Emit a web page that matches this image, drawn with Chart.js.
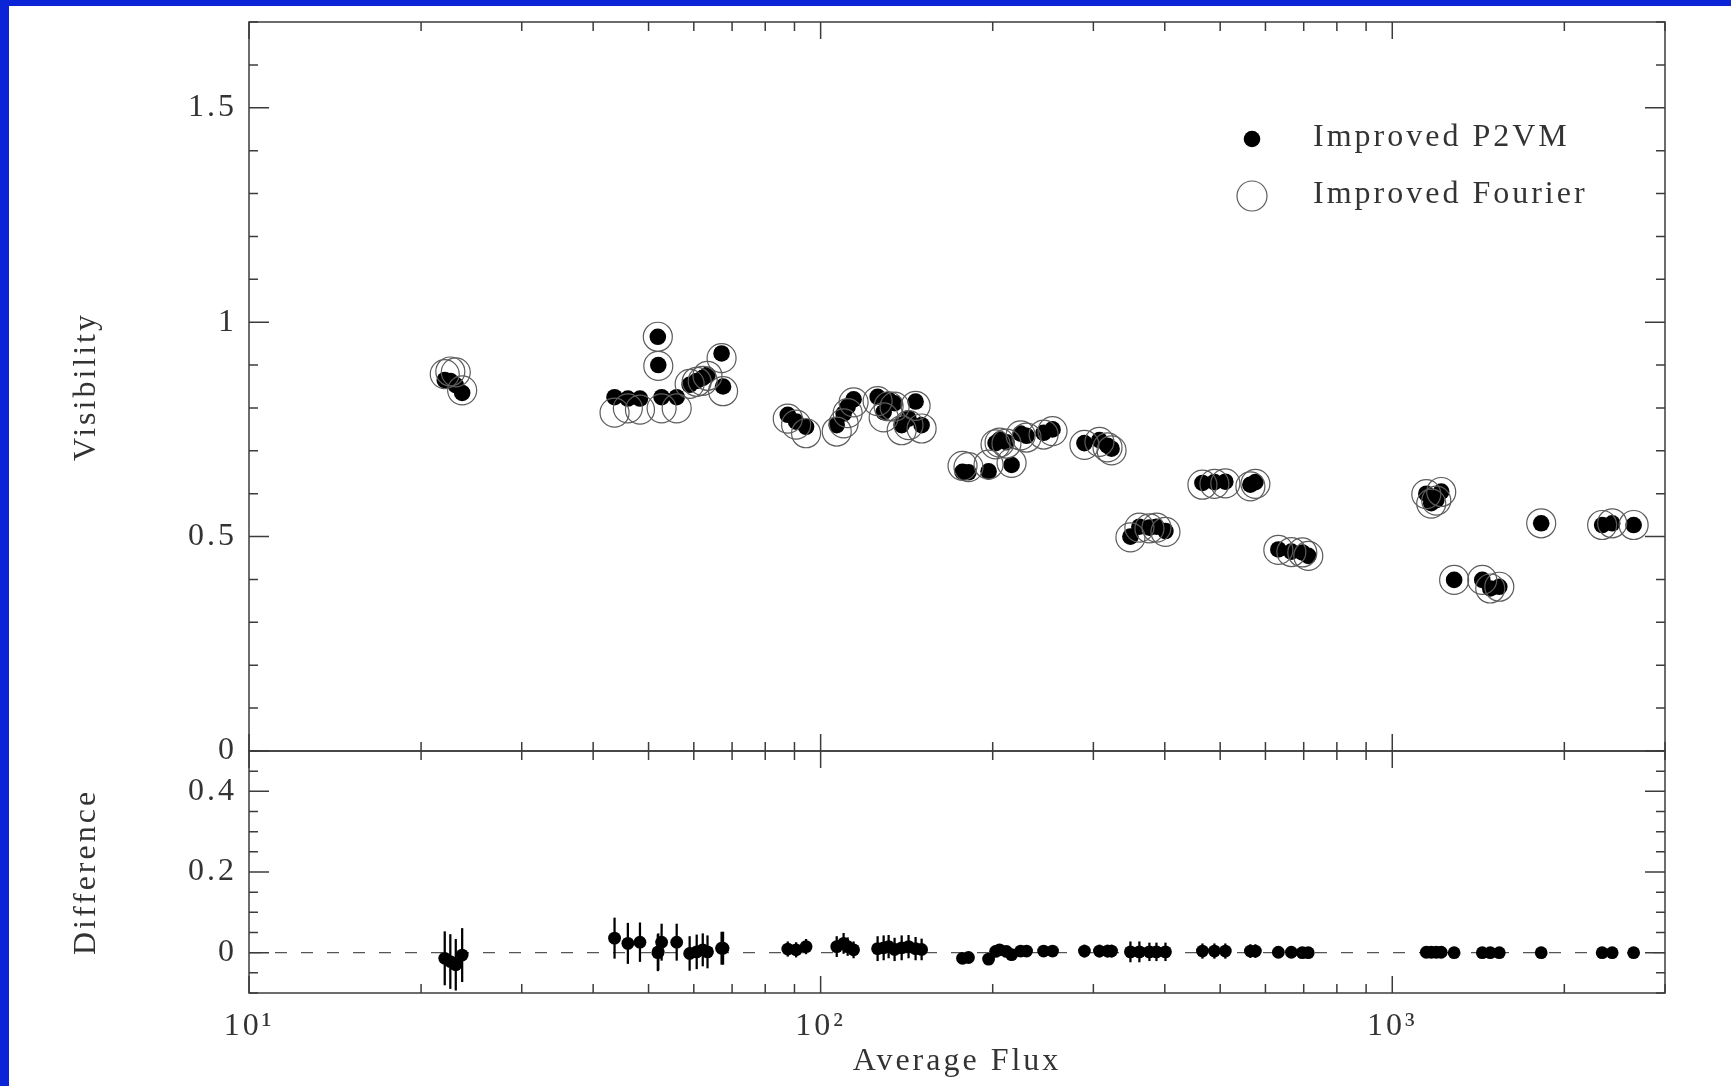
<!DOCTYPE html>
<html>
<head>
<meta charset="utf-8">
<script src="https://cdn.jsdelivr.net/npm/chart.js@4.4.1/dist/chart.umd.min.js"></script>
<style>
  html, body { margin: 0; padding: 0; width: 1731px; height: 1086px; overflow: hidden; background: #0b24d6; }
  #wrap { position: absolute; left: 9px; top: 6px; width: 1722px; height: 1080px; background: #fff; }
  canvas { display: block; }
</style>
</head>
<body>
<div id="wrap"><canvas id="chart" width="1722" height="1080"></canvas></div>
<script>
// values
var FLUX = [22.0, 22.5, 23.0, 23.6, 43.6, 46.0, 48.3, 51.9, 52.0, 52.7, 56.0, 59.0, 60.7, 62.2, 63.4, 67.1, 67.5,
            87.6, 90.6, 94.3, 106.7, 109.7, 111.5, 114.2, 125.8, 128.9, 131.5, 134.7, 138.6, 142.5, 146.6, 150.2,
            177.1, 181.4, 196.7, 202.3, 205.6, 211.4, 215.8, 223.8, 229.2, 245.5, 254.5, 289.4, 307.4, 317.6, 322.8,
            348.3, 361.1, 376.0, 386.8, 401.1, 465.5, 488.5, 510.5, 564.7, 576.2, 632, 666, 696, 713,
            1147, 1170, 1194, 1218, 1283, 1437, 1484, 1539, 1822, 2329, 2425, 2644];
var V_P2VM = [0.865, 0.863, 0.853, 0.835, 0.825, 0.822, 0.822, 0.966, 0.900, 0.825, 0.825, 0.854, 0.863, 0.870, 0.877, 0.927, 0.850,
              0.784, 0.768, 0.756, 0.760, 0.787, 0.803, 0.820, 0.826, 0.790, 0.819, 0.811, 0.760, 0.775, 0.815, 0.760,
              0.651, 0.650, 0.652, 0.718, 0.726, 0.720, 0.667, 0.740, 0.735, 0.742, 0.750, 0.718, 0.725, 0.712, 0.705,
              0.500, 0.523, 0.521, 0.523, 0.513, 0.625, 0.627, 0.628, 0.621, 0.627, 0.470, 0.465, 0.463, 0.455,
              0.600, 0.578, 0.585, 0.605, 0.399, 0.399, 0.379, 0.383, 0.531, 0.527, 0.531, 0.527];
var V_FOURIER = [0.879, 0.885, 0.883, 0.841, 0.789, 0.799, 0.796, 0.966, 0.898, 0.799, 0.799, 0.856, 0.861, 0.863, 0.875, 0.916, 0.839,
                 0.775, 0.761, 0.741, 0.745, 0.764, 0.788, 0.813, 0.816, 0.778, 0.804, 0.803, 0.748, 0.760, 0.805, 0.752,
                 0.665, 0.662, 0.668, 0.715, 0.719, 0.717, 0.672, 0.736, 0.731, 0.738, 0.746, 0.714, 0.721, 0.708, 0.701,
                 0.498, 0.521, 0.519, 0.521, 0.511, 0.621, 0.623, 0.624, 0.617, 0.623, 0.469, 0.464, 0.463, 0.455,
                 0.599, 0.577, 0.584, 0.604, 0.399, 0.399, 0.379, 0.383, 0.531, 0.527, 0.531, 0.527];
var DIFF = [-0.014, -0.022, -0.030, -0.006, 0.036, 0.023, 0.026, 0.000, 0.002, 0.026, 0.026, -0.002, 0.002, 0.007, 0.002, 0.011, 0.011,
            0.009, 0.007, 0.015, 0.015, 0.023, 0.015, 0.007, 0.010, 0.012, 0.015, 0.008, 0.012, 0.015, 0.010, 0.008,
            -0.014, -0.012, -0.016, 0.003, 0.007, 0.003, -0.005, 0.004, 0.004, 0.004, 0.004, 0.004, 0.004, 0.004, 0.004,
            0.002, 0.002, 0.002, 0.002, 0.002, 0.004, 0.004, 0.004, 0.004, 0.004, 0.001, 0.001, 0.000, 0.000,
            0.001, 0.001, 0.001, 0.001, 0.000, 0.000, 0.000, 0.000, 0.000, 0.000, 0.000, 0.000];
var DIFF_ERR = [0.066, 0.067, 0.063, 0.066, 0.050, 0.050, 0.048, 0.045, 0.045, 0.045, 0.045, 0.042, 0.042, 0.040, 0.040, 0.040, 0.040,
                0.018, 0.018, 0.018, 0.025, 0.025, 0.022, 0.020, 0.030, 0.030, 0.028, 0.028, 0.030, 0.028, 0.028, 0.026,
                0.010, 0.010, 0.010, 0.010, 0.010, 0.010, 0.010, 0.010, 0.010, 0.010, 0.010, 0.015, 0.015, 0.015, 0.015,
                0.025, 0.025, 0.022, 0.022, 0.022, 0.018, 0.018, 0.018, 0.016, 0.016, 0.012, 0.012, 0.012, 0.012,
                0.006, 0.006, 0.006, 0.006, 0.006, 0.006, 0.006, 0.006, 0.006, 0.006, 0.006, 0.006];

var X_RANGE = [10, 3000];
var X_TICKS = [10, 20, 30, 40, 50, 60, 70, 80, 90, 100, 200, 300, 400, 500, 600, 700, 800, 900, 1000, 2000, 3000];
var X_MAJOR = [10, 100, 1000];
var X_LABELS = ['10\u00b9', '10\u00b2', '10\u00b3'];
var VIS_TICKS = [0, 0.1, 0.2, 0.3, 0.4, 0.5, 0.6, 0.7, 0.8, 0.9, 1, 1.1, 1.2, 1.3, 1.4, 1.5, 1.6, 1.7];
var VIS_MAJOR = [0, 0.5, 1, 1.5];
var DIFF_TICKS = [-0.1, -0.05, 0, 0.05, 0.1, 0.15, 0.2, 0.25, 0.3, 0.35, 0.4, 0.45, 0.5];
var DIFF_MAJOR = [0, 0.2, 0.4];

var FONT = {family: '"Liberation Serif", "Times New Roman", serif', size: 32};
var INK = '#333';

function pairs(ys) {
    return FLUX.map(function(f, i){ return {x: f, y: ys[i]}; });
}

// fixed axis boxes, no label overhang padding
function fitY(s) {
    s.width = 240;
    s.paddingTop = 0; s.paddingBottom = 0;
}
function fitX(s) {
    s.height = 93;
    s.paddingLeft = 0; s.paddingRight = 0;
}

// letter spacing like the original plot font
var spacing = {
    id: 'spacing',
    beforeDraw: function(chart){ chart.ctx.letterSpacing = '3px'; }
};

// box around each panel with inward ticks on all four sides
var panelFrame = {
    id: 'panelFrame',
    afterDraw: function(chart){
        var ctx = chart.ctx;
        var xs = chart.scales.x;
        ctx.save();
        ctx.strokeStyle = '#3c3c3c';
        ctx.lineWidth = 1.5;
        [['yVis', VIS_MAJOR], ['yDiff', DIFF_MAJOR]].forEach(function(p){
            var ys = chart.scales[p[0]];
            var top = ys.top, bot = ys.bottom, l = xs.left, r = xs.right;
            ctx.strokeRect(l, top, r - l, bot - top);
            ctx.beginPath();
            xs.ticks.forEach(function(t){
                var px = xs.getPixelForValue(t.value);
                var len = X_MAJOR.indexOf(t.value) >= 0 ? 17 : 9;
                ctx.moveTo(px, top); ctx.lineTo(px, top + len);
                ctx.moveTo(px, bot); ctx.lineTo(px, bot - len);
            });
            ys.ticks.forEach(function(t){
                var py = ys.getPixelForValue(t.value);
                var len = p[1].indexOf(t.value) >= 0 ? 20 : 9;
                ctx.moveTo(l, py); ctx.lineTo(l + len, py);
                ctx.moveTo(r, py); ctx.lineTo(r - len, py);
            });
            ctx.stroke();
        });
        ctx.restore();
    }
};

// legend in the top right corner of the upper panel
var legendBox = {
    id: 'legendBox',
    afterDraw: function(chart){
        var ctx = chart.ctx;
        var ca = chart.chartArea;
        var mx = ca.right - 413, tx = ca.right - 352;
        ctx.save();
        ctx.font = '32px ' + FONT.family;
        ctx.fillStyle = INK;
        ctx.textBaseline = 'middle';
        ctx.textAlign = 'left';
        ctx.fillText(chart.data.datasets[1].label, tx, ca.top + 116);
        ctx.fillText(chart.data.datasets[0].label, tx, ca.top + 173);
        ctx.fillStyle = '#000';
        ctx.beginPath();
        ctx.arc(mx, ca.top + 117, 8.3, 0, Math.PI * 2);
        ctx.fill();
        ctx.strokeStyle = '#5c5c5c';
        ctx.lineWidth = 1.2;
        ctx.beginPath();
        ctx.arc(mx, ca.top + 174, 15, 0, Math.PI * 2);
        ctx.stroke();
        ctx.restore();
    }
};

var ctx = document.getElementById('chart');
var chart = new Chart(ctx, {
    type: 'scatter',
    data: {
        datasets: [
            {
                label: 'Improved Fourier',
                data: pairs(V_FOURIER),
                yAxisID: 'yVis',
                pointRadius: 14.5,
                pointBackgroundColor: 'rgba(0,0,0,0)',
                pointBorderColor: '#5c5c5c',
                pointBorderWidth: 1.2,
                order: 0
            },
            {
                label: 'Improved P2VM',
                data: pairs(V_P2VM),
                yAxisID: 'yVis',
                pointRadius: 8.3,
                pointBackgroundColor: '#000',
                pointBorderWidth: 0,
                order: 1
            },
            {
                label: 'Difference',
                data: pairs(DIFF),
                yAxisID: 'yDiff',
                pointRadius: 6.4,
                pointBackgroundColor: '#000',
                pointBorderWidth: 0,
                order: 0
            },
            {
                type: 'bar',
                label: 'error',
                data: FLUX.map(function(f, i){ return {x: f, y: [DIFF[i] - DIFF_ERR[i], DIFF[i] + DIFF_ERR[i]]}; }),
                yAxisID: 'yDiff',
                barThickness: 1.6,
                backgroundColor: '#000',
                order: 1
            },
            {
                type: 'line',
                label: 'zero',
                data: [{x: X_RANGE[0], y: 0}, {x: X_RANGE[1], y: 0}],
                yAxisID: 'yDiff',
                borderColor: '#555',
                borderWidth: 1.4,
                borderDash: [12, 14],
                pointRadius: 0,
                order: 2
            }
        ]
    },
    options: {
        responsive: false,
        animation: false,
        events: [],
        layout: {padding: {left: 0, top: 16, right: 66, bottom: 0}, autoPadding: false},
        plugins: {legend: {display: false}, tooltip: {enabled: false}},
        scales: {
            x: {
                type: 'logarithmic',
                position: 'bottom',
                min: X_RANGE[0],
                max: X_RANGE[1],
                afterBuildTicks: function(s){ s.ticks = X_TICKS.map(function(v){ return {value: v}; }); },
                afterFit: fitX,
                grid: {display: false, drawTicks: false},
                border: {display: false},
                ticks: {
                    autoSkip: false, maxRotation: 0, padding: 14, font: FONT, color: INK,
                    callback: function(v){ var k = X_MAJOR.indexOf(v); return k >= 0 ? X_LABELS[k] : ''; }
                },
                title: {display: true, text: 'Average Flux', font: FONT, color: INK, padding: {top: 0, bottom: 5}}
            },
            yDiff: {
                type: 'linear',
                position: 'left',
                stack: 'panels',
                stackWeight: 242,
                weight: 0,
                min: -0.1,
                max: 0.5,
                afterBuildTicks: function(s){ s.ticks = DIFF_TICKS.map(function(v){ return {value: v}; }); },
                afterFit: fitY,
                grid: {display: false, drawTicks: false},
                border: {display: false},
                ticks: {
                    autoSkip: false, padding: 12, font: FONT, color: INK,
                    callback: function(v){ return DIFF_MAJOR.indexOf(v) >= 0 ? String(v) : ''; }
                },
                title: {display: true, text: 'Difference', font: FONT, color: INK, padding: {top: 58, bottom: 0}}
            },
            yVis: {
                type: 'linear',
                position: 'left',
                stack: 'panels',
                stackWeight: 729,
                weight: 1,
                min: 0,
                max: 1.7,
                afterBuildTicks: function(s){ s.ticks = VIS_TICKS.map(function(v){ return {value: v}; }); },
                afterFit: fitY,
                grid: {display: false, drawTicks: false},
                border: {display: false},
                ticks: {
                    autoSkip: false, padding: 12, font: FONT, color: INK,
                    callback: function(v){ return VIS_MAJOR.indexOf(v) >= 0 ? String(v) : ''; }
                },
                title: {display: true, text: 'Visibility', font: FONT, color: INK, padding: {top: 58, bottom: 0}}
            }
        }
    },
    plugins: [spacing, panelFrame, legendBox]
});
</script>
</body>
</html>
